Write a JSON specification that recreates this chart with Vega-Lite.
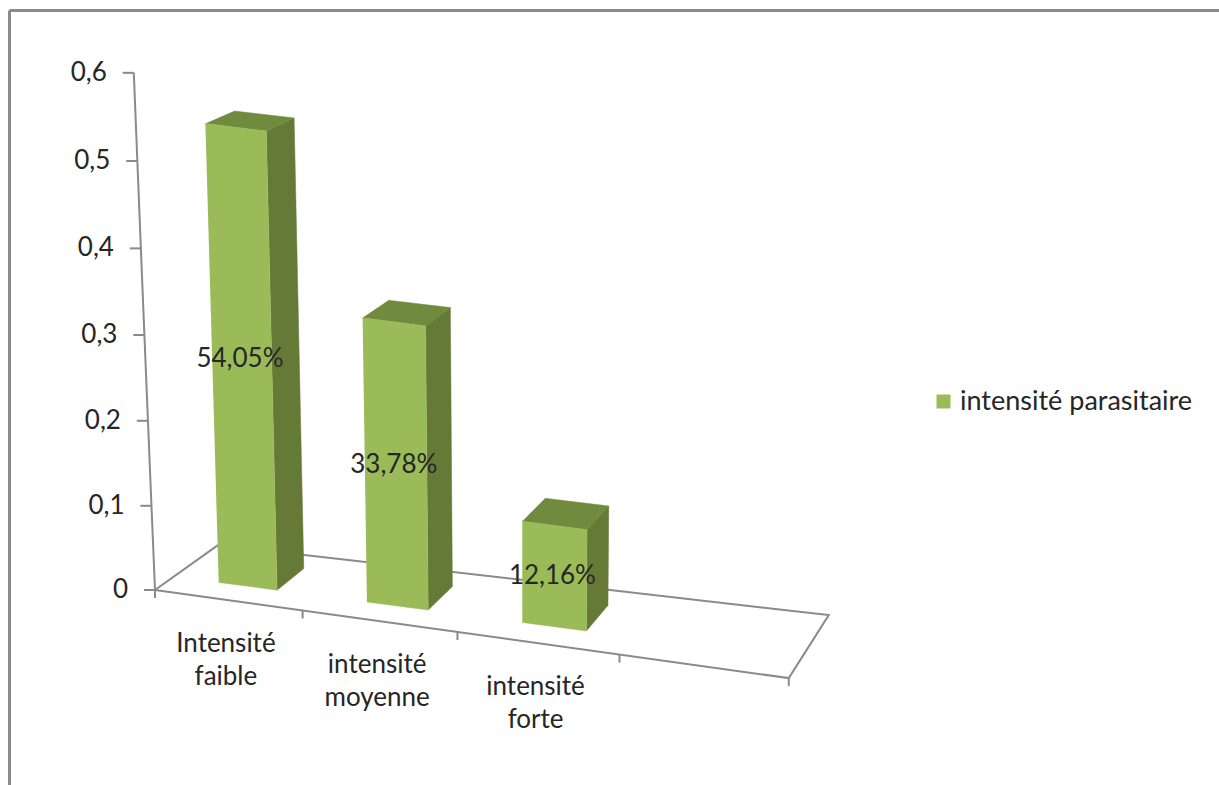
{
  "$schema": "https://vega.github.io/schema/vega-lite/v6.json",
  "width": 1210,
  "height": 775,
  "padding": {"left": 9, "top": 10, "right": 0, "bottom": 0},
  "autosize": "none",
  "background": "#ffffff",
  "config": {"view": {"stroke": null}, "text": {"font": "Lato", "fontSize": 26, "color": "#262626"}},
  "datasets": {
    "barres": [
      {"categorie": "Intensité faible", "rang": 0, "valeur": 0.5405, "libelle": "54,05%", "serie": "intensité parasitaire"},
      {"categorie": "intensité moyenne", "rang": 1, "valeur": 0.3378, "libelle": "33,78%", "serie": "intensité parasitaire"},
      {"categorie": "intensité forte", "rang": 2, "valeur": 0.1216, "libelle": "12,16%", "serie": "intensité parasitaire"}
    ],
    "sol": [
      {"k": 0, "d": 0, "v": 0, "ordre": 1},
      {"k": 4, "d": 0, "v": 0, "ordre": 2},
      {"k": 4, "d": 1, "v": 0, "ordre": 3},
      {"k": 0, "d": 1, "v": 0, "ordre": 4},
      {"k": 0, "d": 0, "v": 0, "ordre": 5}
    ],
    "graduations_valeur": [
      {"k": 0, "d": 0, "v": 0, "texte": "0"},
      {"k": 0, "d": 0, "v": 0.1, "texte": "0,1"},
      {"k": 0, "d": 0, "v": 0.2, "texte": "0,2"},
      {"k": 0, "d": 0, "v": 0.3, "texte": "0,3"},
      {"k": 0, "d": 0, "v": 0.4, "texte": "0,4"},
      {"k": 0, "d": 0, "v": 0.5, "texte": "0,5"},
      {"k": 0, "d": 0, "v": 0.6, "texte": "0,6"}
    ],
    "graduations_categorie": [
      {"k": 0, "d": 0, "v": 0},
      {"k": 1, "d": 0, "v": 0},
      {"k": 2, "d": 0, "v": 0},
      {"k": 3, "d": 0, "v": 0},
      {"k": 4, "d": 0, "v": 0}
    ]
  },
  "encoding": {
    "x": {
      "field": "x",
      "type": "quantitative",
      "scale": {"domain": [-0.9226, 6.7235], "nice": false, "zero": false},
      "axis": {"orient": "top", "title": null, "labels": false, "ticks": false, "grid": false, "domainColor": "#8a8a8a", "domainWidth": 3}
    },
    "y": {
      "field": "y",
      "type": "quantitative",
      "scale": {"domain": [-0.226, 0.6721], "nice": false, "zero": false},
      "axis": {"orient": "left", "title": null, "labels": false, "ticks": false, "grid": false, "domainColor": "#8a8a8a", "domainWidth": 3}
    }
  },
  "layer": [
    {
      "data": {"name": "sol"},
      "transform": [
        {"calculate": "0.91*datum.k+0.0228*datum.k*datum.k", "as": "u"},
        {"calculate": "datum.u+datum.d*(0.398-0.03625*datum.u)", "as": "sol_x"},
        {"calculate": "-0.0255*datum.u+datum.d*(0.052+0.00525*datum.u)", "as": "sol_y"},
        {"calculate": "datum.sol_x+(datum.sol_x-2.35)*0.08*datum.v", "as": "x"},
        {"calculate": "datum.sol_y+(838*datum.v+40*datum.v*datum.v)/863*(1-0.04*datum.d)", "as": "y"}
      ],
      "mark": {"type": "line", "color": "#8a8a8a", "strokeWidth": 2, "clip": false},
      "encoding": {"order": {"field": "ordre", "type": "ordinal"}}
    },
    {
      "data": {"name": "graduations_valeur"},
      "transform": [
        {"calculate": "0.91*datum.k+0.0228*datum.k*datum.k", "as": "u"},
        {"calculate": "datum.u+datum.d*(0.398-0.03625*datum.u)", "as": "sol_x"},
        {"calculate": "-0.0255*datum.u+datum.d*(0.052+0.00525*datum.u)", "as": "sol_y"},
        {"calculate": "datum.sol_x+(datum.sol_x-2.35)*0.095*datum.v", "as": "x"},
        {"calculate": "datum.sol_y+(838*datum.v+40*datum.v*datum.v)/863*(1-0.04*datum.d)", "as": "y"},
        {"calculate": "datum.x-0.07", "as": "x_trait"}
      ],
      "layer": [
        {
          "mark": {"type": "line", "color": "#8a8a8a", "strokeWidth": 2},
          "encoding": {"order": {"field": "v", "type": "quantitative"}}
        },
        {
          "mark": {"type": "rule", "color": "#8a8a8a", "strokeWidth": 2},
          "encoding": {"x2": {"field": "x_trait"}}
        },
        {
          "mark": {"type": "text", "align": "right", "baseline": "middle", "dx": -27},
          "encoding": {"text": {"field": "texte"}}
        }
      ]
    },
    {
      "data": {"name": "graduations_categorie"},
      "transform": [
        {"calculate": "0.91*datum.k+0.0228*datum.k*datum.k", "as": "u"},
        {"calculate": "datum.u+datum.d*(0.398-0.03625*datum.u)", "as": "sol_x"},
        {"calculate": "-0.0255*datum.u+datum.d*(0.052+0.00525*datum.u)", "as": "sol_y"},
        {"calculate": "datum.sol_x+(datum.sol_x-2.35)*0.08*datum.v", "as": "x"},
        {"calculate": "datum.sol_y+(838*datum.v+40*datum.v*datum.v)/863*(1-0.04*datum.d)", "as": "y"},
        {"calculate": "datum.y-0.0093", "as": "y_trait"}
      ],
      "mark": {"type": "rule", "color": "#8a8a8a", "strokeWidth": 2},
      "encoding": {"y2": {"field": "y_trait"}}
    },
    {
      "data": {"name": "barres"},
      "transform": [
        {"calculate": "['avant','cote','dessus']", "as": "face"},
        {"flatten": ["face"]},
        {"calculate": "[0,1,2,3]", "as": "coin"},
        {"flatten": ["coin"]},
        {"calculate": "datum.rang+(datum.face=='cote'||datum.coin==1||datum.coin==2?0.712:0.312)", "as": "k"},
        {"calculate": "datum.face=='avant'?0.3:datum.face=='cote'?(datum.coin==1||datum.coin==2?0.75:0.3):(datum.coin>=2?0.75:0.3)", "as": "d"},
        {"calculate": "datum.face=='dessus'||datum.coin>=2?datum.valeur:0", "as": "v"},
        {"calculate": "0.91*datum.k+0.0228*datum.k*datum.k", "as": "u"},
        {"calculate": "datum.u+datum.d*(0.398-0.03625*datum.u)", "as": "sol_x"},
        {"calculate": "-0.0255*datum.u+datum.d*(0.052+0.00525*datum.u)", "as": "sol_y"},
        {"calculate": "datum.sol_x+(datum.sol_x-2.35)*0.08*datum.v", "as": "x"},
        {"calculate": "datum.sol_y+(838*datum.v+40*datum.v*datum.v)/863*(1-0.04*datum.d)", "as": "y"}
      ],
      "layer": [
        {
          "transform": [{"filter": "datum.face=='cote'"}],
          "mark": {"type": "line", "fill": "#667A38", "stroke": "#667A38", "strokeWidth": 0.5},
          "encoding": {"detail": {"field": "categorie"}, "order": {"field": "coin", "type": "ordinal"}}
        },
        {
          "transform": [{"filter": "datum.face=='dessus'"}],
          "mark": {"type": "line", "fill": "#708A3E", "stroke": "#708A3E", "strokeWidth": 0.5},
          "encoding": {"detail": {"field": "categorie"}, "order": {"field": "coin", "type": "ordinal"}}
        },
        {
          "transform": [{"filter": "datum.face=='avant'"}],
          "mark": {"type": "line", "stroke": "#9BBB59", "strokeWidth": 0.5},
          "encoding": {
            "detail": {"field": "categorie"},
            "order": {"field": "coin", "type": "ordinal"},
            "fill": {
              "field": "serie",
              "type": "nominal",
              "scale": {"range": ["#9BBB59"]},
              "legend": {
                "title": null,
                "orient": "none",
                "legendX": 921,
                "legendY": 378,
                "symbolType": "square",
                "symbolSize": 196,
                "symbolStrokeWidth": 0,
                "labelFont": "Lato",
                "labelFontSize": 27,
                "labelColor": "#262626",
                "labelOffset": 3,
                "labelLimit": 300
              }
            }
          }
        }
      ]
    },
    {
      "data": {"name": "barres"},
      "transform": [
        {"calculate": "datum.rang+0.5", "as": "k"},
        {"calculate": "0.3", "as": "d"},
        {"calculate": "datum.valeur/2", "as": "v"},
        {"calculate": "0.91*datum.k+0.0228*datum.k*datum.k", "as": "u"},
        {"calculate": "datum.u+datum.d*(0.398-0.03625*datum.u)", "as": "sol_x"},
        {"calculate": "-0.0255*datum.u+datum.d*(0.052+0.00525*datum.u)", "as": "sol_y"},
        {"calculate": "datum.sol_x+(datum.sol_x-2.35)*0.08*datum.v", "as": "x"},
        {"calculate": "datum.sol_y+(838*datum.v+40*datum.v*datum.v)/863*(1-0.04*datum.d)", "as": "y"}
      ],
      "mark": {"type": "text", "align": "center", "baseline": "middle"},
      "encoding": {"text": {"field": "libelle"}}
    },
    {
      "data": {"name": "barres"},
      "transform": [
        {"calculate": "datum.rang+0.5", "as": "k"},
        {"calculate": "0", "as": "d"},
        {"calculate": "0", "as": "v"},
        {"calculate": "0.91*datum.k+0.0228*datum.k*datum.k", "as": "u"},
        {"calculate": "datum.u+datum.d*(0.398-0.03625*datum.u)", "as": "sol_x"},
        {"calculate": "-0.0255*datum.u+datum.d*(0.052+0.00525*datum.u)", "as": "sol_y"},
        {"calculate": "datum.sol_x+(datum.sol_x-2.35)*0.08*datum.v", "as": "x"},
        {"calculate": "datum.sol_y+(838*datum.v+40*datum.v*datum.v)/863*(1-0.04*datum.d)", "as": "y"}
      ],
      "mark": {"type": "text", "align": "center", "baseline": "top", "lineBreak": " ", "lineHeight": 33, "dy": 31, "dx": -2},
      "encoding": {"text": {"field": "categorie"}}
    }
  ]
}
